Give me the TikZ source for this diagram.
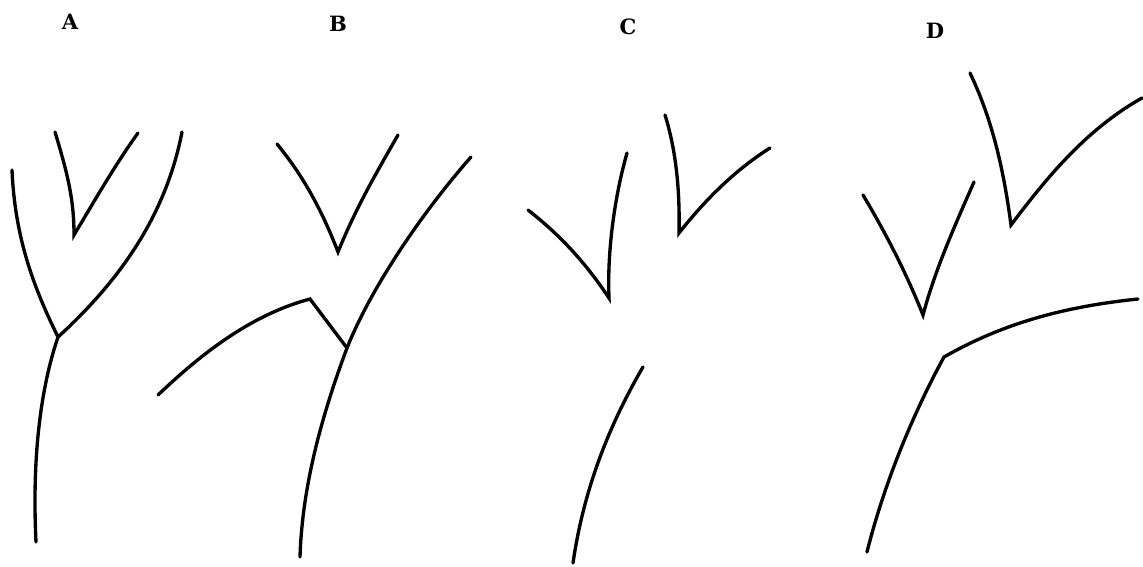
\documentclass[tikz,border=0pt]{standalone}
\usepackage{fontspec}
\newfontfamily\panelfont{DejaVu Serif}
\begin{document}
\begin{tikzpicture}[x=0.02cm,y=-0.02cm,
  branch/.style={line width=1.9pt,line cap=round,line join=miter},
  panel/.style={font=\panelfont\bfseries\fontsize{12}{14}\selectfont,inner sep=0pt}]
  \useasboundingbox (0,0) rectangle (1143,566);
  \node[panel] (lblA) at (70,22) {A};
  \node[panel] (lblB) at (338,24) {B};
  \node[panel] (lblC) at (628,27) {C};
  \node[panel] (lblD) at (935,31) {D};
  % A
  \draw[branch] (12,170) .. controls (15,240) and (35,290) .. (58,337)
    .. controls (40,390) and (32,460) .. (36,542);
  \draw[branch] (182,132) .. controls (165,220) and (115,285) .. (58,337);
  \draw[branch] (55,132) .. controls (68,175) and (74,200) .. (74,235)
    .. controls (95,200) and (115,165) .. (138,133);
  % B
  \draw[branch] (158,395) .. controls (200,355) and (250,315) .. (310,299) -- (347,348);
  \draw[branch] (277,144) .. controls (300,172) and (320,205) .. (338,252)
    .. controls (355,210) and (375,175) .. (398,135);
  \draw[branch] (471,157) .. controls (420,215) and (370,290) .. (347,348)
    .. controls (320,420) and (302,490) .. (300,557);
  % C
  \draw[branch] (528,210) .. controls (560,235) and (585,262) .. (609,298)
    .. controls (607,250) and (615,195) .. (627,153);
  \draw[branch] (665,115) .. controls (676,150) and (680,190) .. (679,233)
    .. controls (705,200) and (735,170) .. (770,148);
  \draw[branch] (643,367) .. controls (615,415) and (585,480) .. (573,563);
  % D
  \draw[branch] (863,195) .. controls (885,232) and (905,270) .. (923,315)
    .. controls (935,270) and (955,225) .. (974,182);
  \draw[branch] (970,73) .. controls (995,125) and (1005,180) .. (1011,225)
    .. controls (1045,180) and (1085,130) .. (1142,98);
  \draw[branch] (1138,299) .. controls (1060,307) and (1000,325) .. (944,357)
    .. controls (915,410) and (885,480) .. (867,552);
\end{tikzpicture}
\end{document}
